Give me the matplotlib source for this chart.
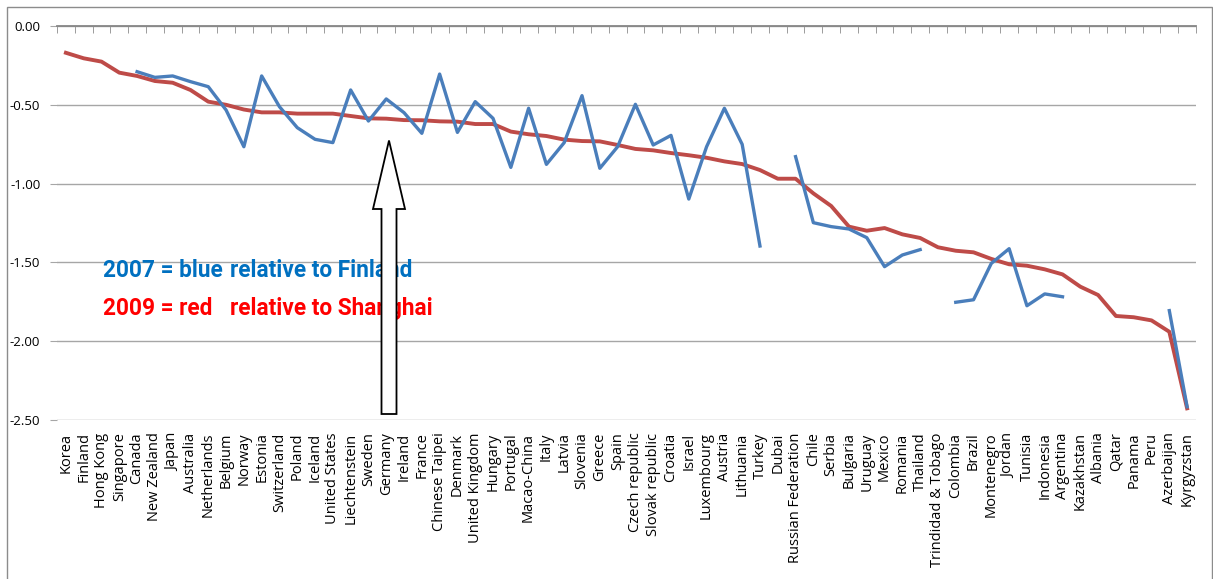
import numpy as np
import matplotlib.pyplot as plt
from matplotlib.patches import Polygon, Rectangle

W, H = 1213, 579

countries = ["Korea", "Finland", "Hong Kong", "Singapore", "Canada", "New Zealand", "Japan",
             "Australia", "Netherlands", "Belgium", "Norway", "Estonia", "Switzerland", "Poland",
             "Iceland", "United States", "Liechtenstein", "Sweden", "Germany", "Ireland", "France",
             "Chinese Taipei", "Denmark", "United Kingdom", "Hungary", "Portugal", "Macao-China",
             "Italy", "Latvia", "Slovenia", "Greece", "Spain", "Czech republic", "Slovak republic",
             "Croatia", "Israel", "Luxembourg", "Austria", "Lithuania", "Turkey", "Dubai",
             "Russian Federation", "Chile", "Serbia", "Bulgaria", "Uruguay", "Mexico", "Romania",
             "Thailand", "Trindidad & Tobago", "Colombia", "Brazil", "Montenegro", "Jordan",
             "Tunisia", "Indonesia", "Argentina", "Kazakhstan", "Albania", "Qatar", "Panama",
             "Peru", "Azerbaijan", "Kyrgyzstan"]

# 2009, relative to Shanghai
red_2009 = [-0.17, -0.205, -0.226, -0.296, -0.317, -0.349, -0.36, -0.406, -0.48, -0.50,
            -0.53, -0.548, -0.548, -0.556, -0.556, -0.556, -0.571, -0.586, -0.588, -0.597,
            -0.598, -0.605, -0.607, -0.622, -0.622, -0.67, -0.687, -0.698, -0.721, -0.73,
            -0.732, -0.755, -0.78, -0.789, -0.806, -0.82, -0.836, -0.859, -0.876, -0.914,
            -0.969, -0.969, -1.062, -1.142, -1.273, -1.299, -1.282, -1.322, -1.345, -1.404,
            -1.426, -1.436, -1.478, -1.512, -1.521, -1.544, -1.576, -1.654, -1.707, -1.84,
            -1.848, -1.868, -1.94, -2.426]

# 2007, relative to Finland (nan = no value)
nan = np.nan
blue_2007 = [nan, nan, nan, nan, -0.29, -0.326, -0.317, -0.353, -0.385, -0.533,
             -0.766, -0.317, -0.512, -0.645, -0.719, -0.74, -0.406, -0.603, -0.463, -0.55,
             -0.681, -0.305, -0.675, -0.48, -0.586, -0.897, -0.522, -0.878, -0.74, -0.442,
             -0.903, -0.766, -0.497, -0.755, -0.694, -1.098, -0.766, -0.522, -0.751, -1.396,
             nan, -0.829, -1.248, -1.273, -1.288, -1.343, -1.527, -1.453, -1.419, nan,
             -1.753, -1.737, -1.506, -1.413, -1.775, -1.70, -1.718, nan, nan, nan,
             nan, nan, -1.806, -2.416]

yticks = [0.0, -0.5, -1.0, -1.5, -2.0, -2.5]

def px(x, y):
    return (x / W, 1 - y / H)

fig = plt.figure(figsize=(W / 100, H / 100), dpi=100)
ax = fig.add_axes([57 / W, 1 - 420 / H, (1196 - 57) / W, (420 - 26) / H])

x = np.arange(1, len(countries) + 1)
ax.plot(x, blue_2007, color='#4A7EBB', lw=2.4, solid_joinstyle='round', zorder=3)
ax.plot(x, red_2009, color='#BE4B48', lw=2.8, solid_joinstyle='round', zorder=2)

ax.set_xlim(0.5, len(countries) + 0.5)
ax.set_ylim(-2.5, 0)
ax.set_yticks(yticks)
ax.set_yticklabels(['%.2f' % v for v in yticks], fontsize=9.5, family='Open Sans')
ax.yaxis.grid(True, color='#A6A6A6', lw=1)
ax.set_axisbelow(True)

ax.set_xticks(x)
ax.set_xticklabels(countries, rotation=90, fontsize=10.5, family='Open Sans')
ax.tick_params(axis='x', which='major', length=0, pad=9)
ax.set_xticks(np.arange(0.5, len(countries) + 1), minor=True)
ax.tick_params(axis='x', which='minor', top=True, bottom=False, direction='in',
               length=5, color='#8C8C8C')
ax.tick_params(axis='y', length=5, color='#A6A6A6', pad=7)

for s in ['left', 'right', 'bottom']:
    ax.spines[s].set_visible(False)
ax.spines['top'].set_color('#868686')
ax.spines['top'].set_linewidth(1.3)

# legend text
fnt = dict(family=['Roboto', 'DejaVu Sans'], fontweight='bold', fontsize=16.3,
           transform=fig.transFigure, va='baseline')
fig.text(*px(103, 277), '2007 = blue', color='#0070C0', **fnt)
fig.text(*px(230, 277), 'relative to Finland', color='#0070C0', **fnt)
fig.text(*px(103, 315), '2009 = red', color='#FF0000', **fnt)
fig.text(*px(230, 315), 'relative to Shanghai', color='#FF0000', **fnt)

# block arrow pointing up at Germany
arrow = [px(381.5, 414), px(396.5, 414), px(396.5, 209), px(405, 209), px(389, 140.5),
         px(373, 209), px(381.5, 209)]
fig.patches.append(Polygon(arrow, closed=True, facecolor='white', edgecolor='black',
                           lw=1.3, transform=fig.transFigure, zorder=5))

# chart frame
x0, y0 = px(7, 700)
x1, y1 = px(1211.5, 7)
fig.patches.append(Rectangle((x0, y0), x1 - x0, y1 - y0, fill=False, edgecolor='#8C8C8C',
                             lw=1, transform=fig.transFigure))

fig.savefig('out.png', dpi=100)
